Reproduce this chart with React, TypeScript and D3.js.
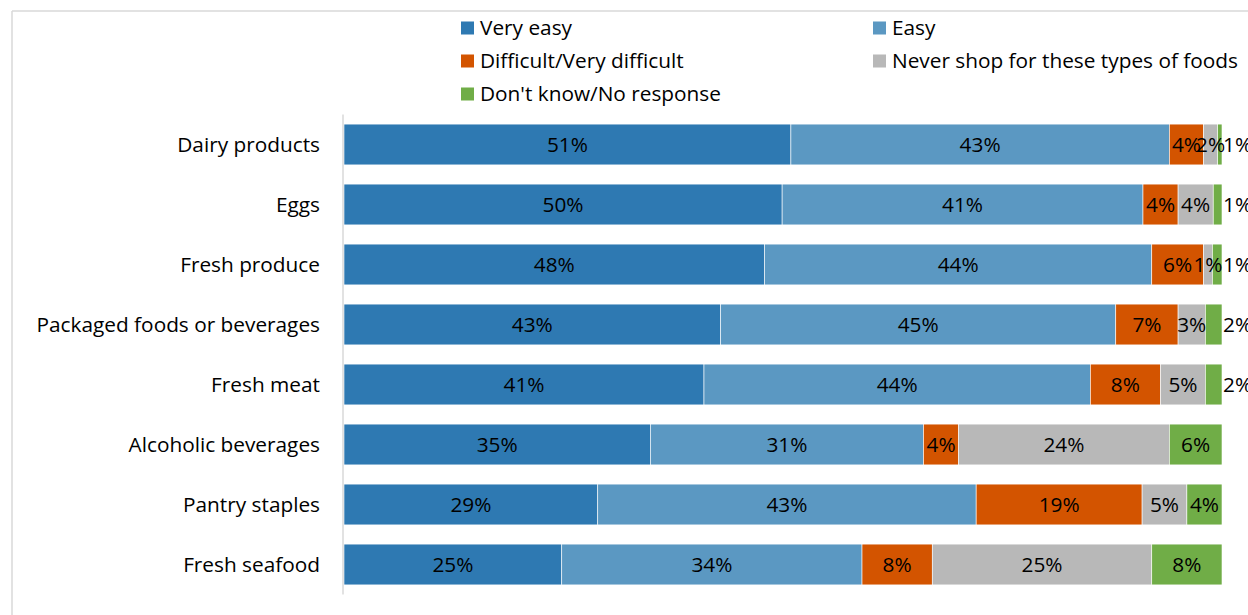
import React from "react";
import * as d3 from "d3";

const categories = [
  "Dairy products",
  "Eggs",
  "Fresh produce",
  "Packaged foods or beverages",
  "Fresh meat",
  "Alcoholic beverages",
  "Pantry staples",
  "Fresh seafood",
];

const seriesNames = [
  "Very easy",
  "Easy",
  "Difficult/Very difficult",
  "Never shop for these types of foods",
  "Don't know/No response",
];

const veryEasy = [50.9, 49.9, 47.9, 42.9, 41.0, 34.9, 28.9, 24.8];
const easy = [43.1, 41.1, 44.1, 45.0, 44.0, 31.1, 43.1, 34.2];
const difficult = [3.9, 4.0, 5.9, 7.1, 8.0, 4.0, 18.9, 8.0];
const neverShop = [1.6, 4.0, 1.0, 3.1, 5.1, 24.0, 5.1, 25.0];
const dontKnow = [0.5, 1.0, 1.1, 1.9, 1.9, 6.0, 4.0, 8.0];

const colors = ["#2E79B2", "#5B98C2", "#D35400", "#B8B8B8", "#70AD47"];

const W = 1248;
const H = 615;
const FONT = "'Open Sans', 'Noto Sans', sans-serif";

export default function App() {
  const series = [veryEasy, easy, difficult, neverShop, dontKnow];
  const x = d3.scaleLinear().domain([0, 100]).range([344, 1222]);
  const y = d3
    .scaleBand<string>()
    .domain(categories)
    .range([114.5, 594.5])
    .paddingInner(0.32)
    .paddingOuter(0.16);

  const rows = categories.map((c, i) => {
    let acc = 0;
    return series.map((s, k) => {
      const x0 = acc;
      acc += s[i];
      return { k, x0, x1: acc, v: s[i], cat: c };
    });
  });

  const legendItems = seriesNames.map((n, k) => ({
    n,
    k,
    col: k % 2,
    row: Math.floor(k / 2),
  }));

  return (
    <svg
      width={W}
      height={H}
      style={{ position: "absolute", left: 0, top: 0, background: "#fff" }}
      fontFamily={FONT}
    >
      <rect x={0} y={0} width={W} height={H} fill="#fff" />
      <text x={152} y={-6} fontSize={21} fill="#000">g</text>
      {/* frame */}
      <line x1={12} x2={W} y1={11} y2={11} stroke="#D9D9D9" strokeWidth={1.5} />
      <line x1={12} x2={12} y1={11} y2={H} stroke="#D9D9D9" strokeWidth={1.5} />

      {/* legend */}
      {legendItems.map((d) => {
        const lx = d.col === 0 ? 461 : 873;
        const ly = 28 + d.row * 33;
        return (
          <g key={d.n}>
            <rect x={lx} y={ly - 6.5} width={13} height={13} fill={colors[d.k]} />
            <text x={lx + 19} y={ly} dy="0.35em" fontSize={20.8} fill="#000">
              {d.n}
            </text>
          </g>
        );
      })}

      {/* bars */}
      {rows.map((segs, i) => {
        const cat = categories[i];
        const by = y(cat)!;
        const bh = y.bandwidth();
        const cy = by + bh / 2;
        return (
          <g key={cat}>
            <text
              x={320}
              y={cy}
              dy="0.35em"
              textAnchor="end"
              fontSize={20.8}
              fill="#000"
            >
              {cat}
            </text>
            {segs.map((s) => (
              <rect
                key={s.k}
                x={x(s.x0)}
                y={by}
                width={Math.max(0, x(s.x1) - x(s.x0))}
                height={bh}
                fill={colors[s.k]}
                stroke="#fff"
                strokeWidth={0.6}
              />
            ))}
            {segs.map((s) => {
              const outside = s.k === 4 && s.v < 3;
              const tx = outside ? x(100) + 1 : (x(s.x0) + x(s.x1)) / 2;
              return (
                <text
                  key={"l" + s.k}
                  x={tx}
                  y={cy}
                  dy="0.35em"
                  textAnchor={outside ? "start" : "middle"}
                  fontSize={20.8}
                  fill="#000"
                >
                  {Math.round(s.v) + "%"}
                </text>
              );
            })}
          </g>
        );
      })}

      {/* axis line */}
      <line x1={343} x2={343} y1={114.5} y2={594.5} stroke="#D9D9D9" strokeWidth={1.5} />
    </svg>
  );
}
